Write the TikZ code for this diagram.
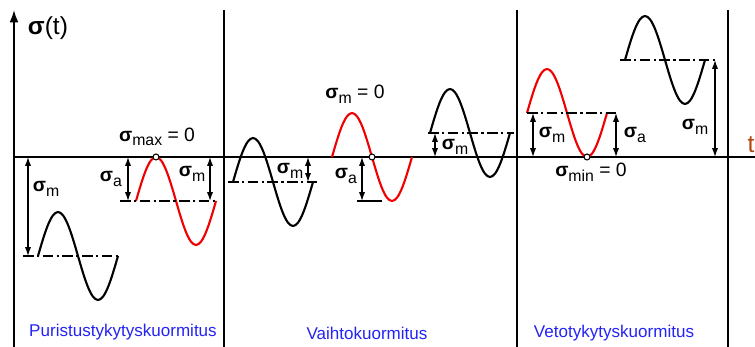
\documentclass[tikz,border=0pt]{standalone}
\usepackage{fontspec}
\setmainfont{Liberation Sans}
\usetikzlibrary{arrows.meta}
\definecolor{kindBlue}{HTML}{2323F5}
\definecolor{tBrown} {HTML}{B3470B}
\definecolor{hotRed} {HTML}{F00000}
\newcommand{\sg}[1]{{\bfseries σ}\raisebox{-0.45ex}{\fontsize{9}{9}\selectfont #1}}

\begin{document}
\begin{tikzpicture}[x=0.02cm,y=-0.02cm,
          ax/.style={line width=1pt},
          wv/.style={line width=1.2pt,line join=round},
          hot/.style={wv,hotRed},
          mid/.style={line width=0.9pt,dash pattern=on 6pt off 2pt on 1.2pt off 2pt},
          dim/.style={{Latex[length=5pt,width=3.5pt]}-{Latex[length=5pt,width=3.5pt]},line width=0.7pt},
          lbl/.style={font=\fontsize{11}{11}\selectfont,inner sep=0},
          kind/.style={font=\fontsize{9.7}{12}\selectfont,text=kindBlue},
          dot/.style={draw,circle,fill=white,minimum size=3.4pt,inner sep=0,line width=0.6pt}]
        \useasboundingbox (0,0) rectangle (755,347);

        \coordinate (o) at (14,157);  \coordinate (top) at (14,10);
        \coordinate (bot) at (14,347); \coordinate (tend) at (755,157);
        \coordinate (s1t) at (224,10); \coordinate (s1b) at (224,347);
        \coordinate (s2t) at (517,10); \coordinate (s2b) at (517,347);
        \coordinate (s3t) at (728,10); \coordinate (s3b) at (728,347);

        \draw[ax,-{Latex[length=7pt,width=5pt]}] (bot) -- (top);
        \draw[ax] (o) -- (tend);
        \draw[ax] (s1t) -- (s1b); \draw[ax] (s2t) -- (s2b); \draw[ax] (s3t) -- (s3b);

        \node[font=\fontsize{14}{14}\selectfont,inner sep=0] (sgt) at (48,28) {{\bfseries σ}(t)};
        \node[font=\fontsize{14}{14}\selectfont,text=tBrown,inner sep=0] (t) at (751,145) {t};

        % puristus
        \draw[wv] (38,256) sin (58,212) cos (78,256) sin (98,300) cos (118,256);
        \draw[hot] (136,201) sin (156,157) cos (176,201) sin (196,245) cos (216,201);
        \coordinate (m1l) at (23,256); \coordinate (m1r) at (118,256);
        \coordinate (m2l) at (120,201); \coordinate (m2r) at (216,201);
        \draw[mid] (m1l) -- (m1r); \draw[mid] (m2l) -- (m2r);
        \coordinate (a1) at (28,157);  \coordinate (b1) at (28,256);
        \coordinate (a2) at (128,157); \coordinate (b2) at (128,201);
        \coordinate (a3) at (210,157); \coordinate (b3) at (210,201);
        \draw[dim] (a1) -- (b1); \draw[dim] (a2) -- (b2); \draw[dim] (a3) -- (b3);
        \node[dot] (zmax) at (156,157) {};
        \node[lbl] (lm1) at (46,189) {\sg{m}};
        \node[lbl] (la1) at (111,179) {\sg{a}};
        \node[lbl] (lm2) at (192,174) {\sg{m}};
        \node[lbl] (lmax) at (157,137) {\sg{max} = 0};

        % vaihto
        \draw[wv] (233,182) sin (253,138) cos (273,182) sin (293,226) cos (313,182);
        \draw[hot] (332,157) sin (352,113) cos (372,157) sin (392,201) cos (412,157);
        \draw[wv] (430,133) sin (450,89) cos (470,133) sin (490,177) cos (510,133);
        \coordinate (m3l) at (228,182); \coordinate (m3r) at (318,182);
        \coordinate (m4l) at (357,201); \coordinate (m4r) at (382,201);
        \coordinate (m5l) at (428,133); \coordinate (m5r) at (514,133);
        \draw[mid] (m3l) -- (m3r); \draw[ax] (m4l) -- (m4r); \draw[mid] (m5l) -- (m5r);
        \coordinate (a4) at (308,157); \coordinate (b4) at (308,182);
        \coordinate (a5) at (362,157); \coordinate (b5) at (362,201);
        \coordinate (a6) at (435,157); \coordinate (b6) at (435,133);
        \draw[dim] (a4) -- (b4); \draw[dim] (a5) -- (b5); \draw[dim] (a6) -- (b6);
        \node[dot] (zm) at (372,157) {};
        \node[lbl] (lm3) at (290,171) {\sg{m}};
        \node[lbl] (lzero) at (355,94) {\sg{m} = 0};
        \node[lbl] (la2) at (346,176) {\sg{a}};
        \node[lbl] (lm4) at (455,147) {\sg{m}};

        % veto
        \draw[hot] (527,113) sin (547,69) cos (567,113) sin (587,157) cos (607,113);
        \draw[wv] (625,60) sin (645,16) cos (665,60) sin (685,104) cos (705,60);
        \coordinate (m6l) at (527,113); \coordinate (m6r) at (618,113);
        \coordinate (m7l) at (620,60); \coordinate (m7r) at (715,60);
        \draw[mid] (m6l) -- (m6r); \draw[mid] (m7l) -- (m7r);
        \coordinate (a7) at (533,157); \coordinate (b7) at (533,113);
        \coordinate (a8) at (616,157); \coordinate (b8) at (616,113);
        \coordinate (a9) at (715,157); \coordinate (b9) at (715,60);
        \draw[dim] (a7) -- (b7); \draw[dim] (a8) -- (b8); \draw[dim] (a9) -- (b9);
        \node[dot] (zmin) at (587,157) {};
        \node[lbl] (lm5) at (552,135) {\sg{m}};
        \node[lbl] (la3) at (635,135) {\sg{a}};
        \node[lbl] (lmin) at (591,172) {\sg{min} = 0};
        \node[lbl] (lm6) at (695,127) {\sg{m}};

        \node[kind] (k1) at (123,332) {Puristustykytyskuormitus};
        \node[kind] (k2) at (367,333) {Vaihtokuormitus};
        \node[kind] (k3) at (614,333) {Vetotykytyskuormitus};
      \end{tikzpicture}
\end{document}
